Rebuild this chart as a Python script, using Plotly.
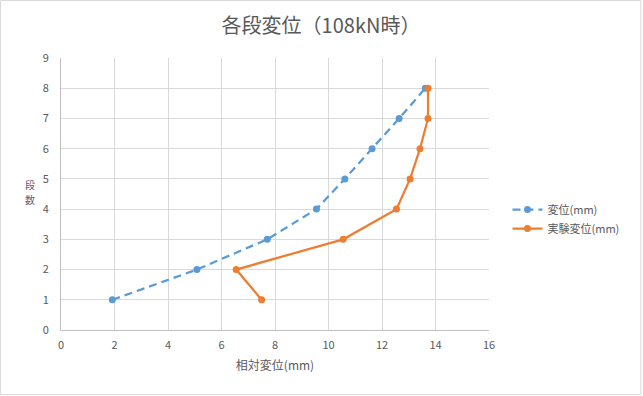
import plotly.graph_objects as go

levels = [1, 2, 3, 4, 5, 6, 7, 8]
calc_disp = [1.92, 5.08, 7.71, 9.55, 10.61, 11.63, 12.64, 13.62]
exp_disp = [7.50, 6.55, 10.55, 12.54, 13.05, 13.42, 13.72, 13.72]

title_text = "各段変位（108kN時）"
x_title = "相対変位(mm)"
y_title = "段数"
name_calc = "変位(mm)"
name_exp = "実験変位(mm)"

FONT = "Noto Sans CJK JP, Liberation Sans, sans-serif"
GRAY = "#595959"

fig = go.Figure()
fig.add_trace(go.Scatter(
    x=calc_disp, y=levels, name=name_calc, mode="lines+markers",
    line=dict(color="#5B9BD5", width=2.25, dash="8px,5px"),
    marker=dict(color="#5B9BD5", size=7),
))
fig.add_trace(go.Scatter(
    x=exp_disp, y=levels, name=name_exp, mode="lines+markers",
    line=dict(color="#ED7D31", width=2.25),
    marker=dict(color="#ED7D31", size=7),
))

L, R, T, B = 61, 153.5, 58, 66
W, H = 643, 396
pw = W - L - R
ph = H - T - B

fig.update_layout(
    width=W, height=H,
    margin=dict(l=L, r=R, t=T, b=B, autoexpand=False),
    paper_bgcolor="white", plot_bgcolor="white",
    font=dict(family=FONT, color=GRAY, size=11),
    title=dict(text=title_text, x=321 / W, xref="container", xanchor="center",
               y=1 - 26 / H, yref="container", yanchor="middle", automargin=False,
               font=dict(size=20, color=GRAY, family=FONT)),
    xaxis=dict(range=[0, 16], dtick=2, showgrid=True, gridcolor="#d9d9d9", gridwidth=1,
               showline=True, linecolor="#bfbfbf", linewidth=1, zeroline=False,
               automargin=False,
               ticks="outside", ticklen=5, tickcolor="rgba(0,0,0,0)",
               tickfont=dict(size=11, color=GRAY),
               title=dict(text=x_title, font=dict(size=12, color=GRAY), standoff=10)),
    yaxis=dict(range=[0, 9], dtick=1, showgrid=True, gridcolor="#d9d9d9", gridwidth=1,
               showline=True, linecolor="#bfbfbf", linewidth=1, zeroline=False,
               automargin=False,
               ticks="outside", ticklen=9, tickcolor="rgba(0,0,0,0)",
               tickfont=dict(size=11, color=GRAY)),
    legend=dict(x=(508 - L) / pw, y=(330 - 219) / ph, xanchor="left", yanchor="middle",
                font=dict(size=11, color=GRAY), bgcolor="rgba(0,0,0,0)",
                tracegroupgap=4, itemwidth=30),
    showlegend=True,
)

# vertical (stacked, upright) y-axis title
for i, ch in enumerate(y_title):
    fig.add_annotation(text=ch, xref="paper", yref="paper",
                       x=(30 - L) / pw, y=(330 - (184 + 16 * i)) / ph,
                       xanchor="center", yanchor="middle", borderpad=0,
                       showarrow=False, font=dict(size=10, color="#665a7a", family=FONT))

fig.add_shape(type="rect", xref="paper", yref="paper",
              x0=(0.5 - L) / pw, x1=(W - 1.5 - L) / pw,
              y0=(330 - (H - 1.5)) / ph, y1=(330 - 0.5) / ph,
              line=dict(color="#d9d9d9", width=1), fillcolor="rgba(0,0,0,0)", layer="below")

fig.write_html("out.html", config={"displayModeBar": False},
               post_script="document.body.style.margin='0';")
